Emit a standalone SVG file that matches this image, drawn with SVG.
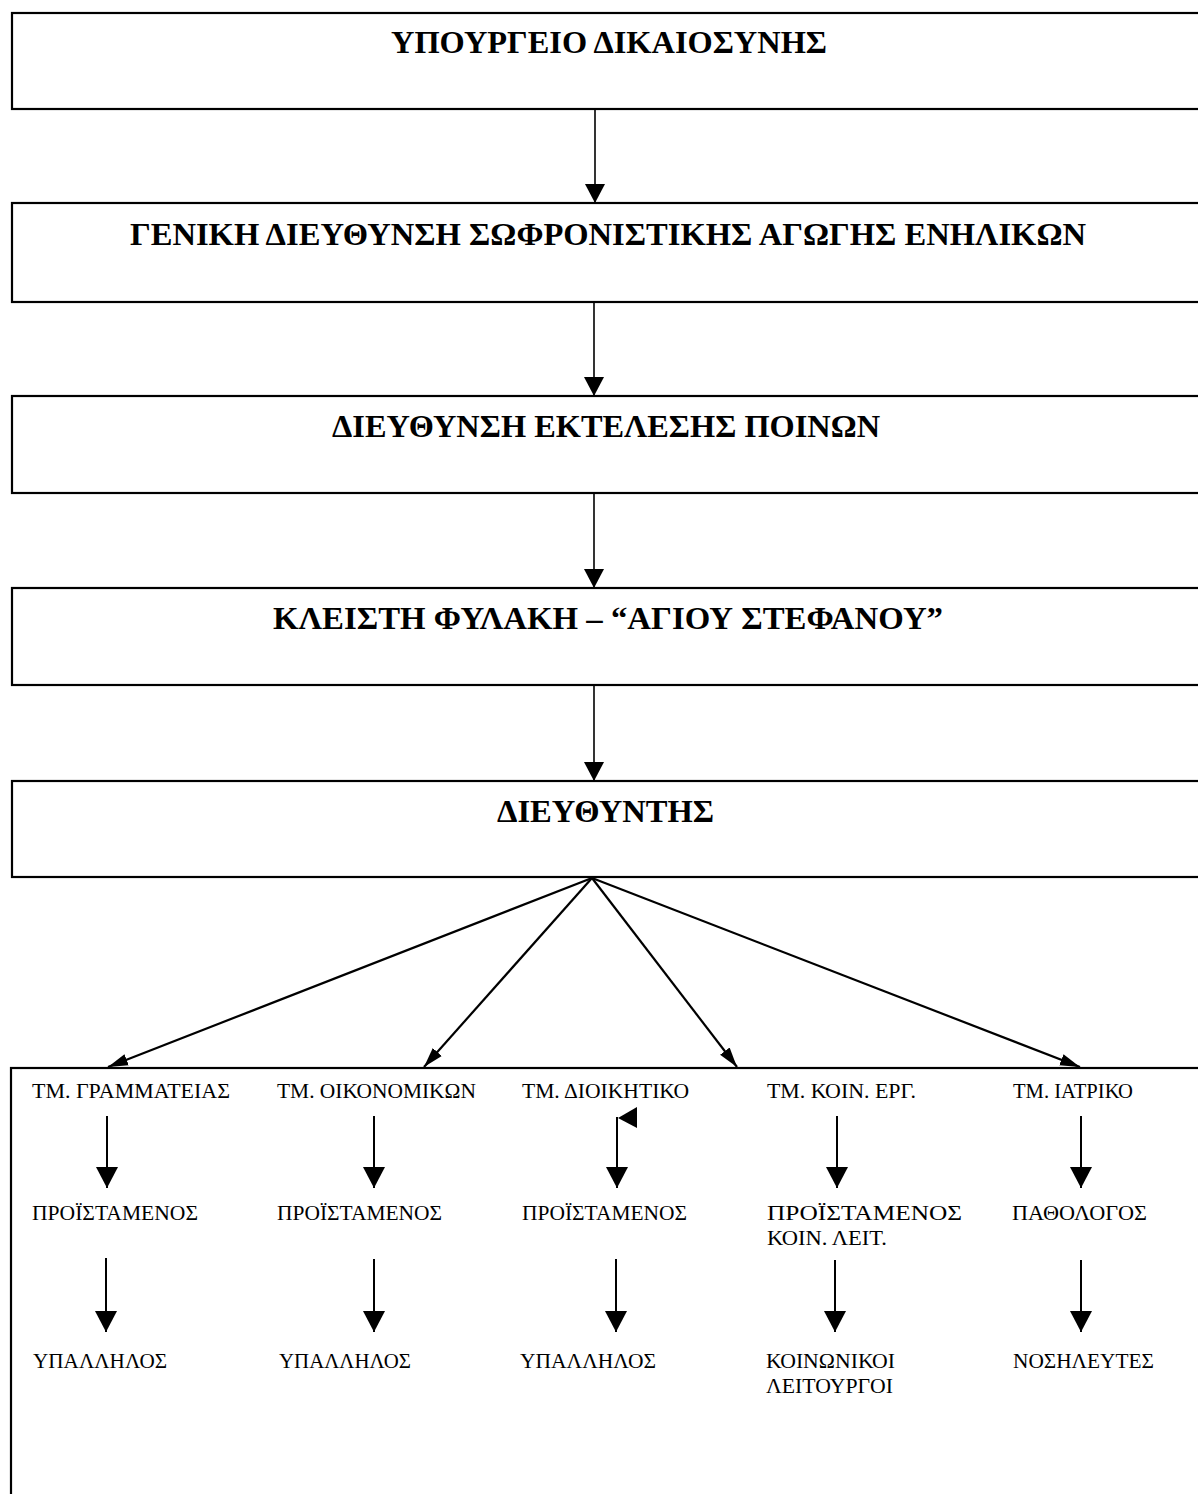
<svg xmlns="http://www.w3.org/2000/svg" width="1198" height="1494" viewBox="0 0 1198 1494">
<style>
.box{fill:#fff;stroke:#000;stroke-width:2.2}
.t{font-family:"Liberation Serif","Times New Roman",serif;font-weight:bold;font-size:32px;fill:#000}
.s{font-family:"Liberation Serif","Times New Roman",serif;font-size:20px;fill:#000}
.c{stroke:#000;stroke-width:1.6;fill:none}
.f{stroke:#000;stroke-width:2.2;fill:none}
.v{stroke:#000;stroke-width:2;fill:none}
</style>
<defs>
<marker id="big" markerUnits="userSpaceOnUse" markerWidth="20" markerHeight="22" refX="19" refY="10" orient="auto" viewBox="0 0 20 20"><path d="M0,0 L19,10 L0,20 z" fill="#000"/></marker>
<marker id="mid" markerUnits="userSpaceOnUse" markerWidth="22" markerHeight="22" refX="21" refY="11" orient="auto" viewBox="0 0 22 22"><path d="M0,0 L21,11 L0,22 z" fill="#000"/></marker>
<marker id="fan" markerUnits="userSpaceOnUse" markerWidth="21" markerHeight="13" refX="20" refY="6" orient="auto" viewBox="0 0 21 12"><path d="M0,0 L20,6 L0,12 z" fill="#000"/></marker>
</defs>
<rect width="1198" height="1494" fill="#fff"/>

<g id="n1"><rect class="box" x="12" y="13" width="1200" height="96"/><text class="t" x="391" y="53" textLength="436" lengthAdjust="spacingAndGlyphs">ΥΠΟΥΡΓΕΙΟ ΔΙΚΑΙΟΣΥΝΗΣ</text></g>
<g id="n2"><rect class="box" x="12" y="203" width="1200" height="99"/><text class="t" x="130" y="245" textLength="956" lengthAdjust="spacingAndGlyphs">ΓΕΝΙΚΗ ΔΙΕΥΘΥΝΣΗ ΣΩΦΡΟΝΙΣΤΙΚΗΣ ΑΓΩΓΗΣ ΕΝΗΛΙΚΩΝ</text></g>
<g id="n3"><rect class="box" x="12" y="396" width="1200" height="97"/><text class="t" x="332" y="437" textLength="548" lengthAdjust="spacingAndGlyphs">ΔΙΕΥΘΥΝΣΗ ΕΚΤΕΛΕΣΗΣ ΠΟΙΝΩΝ</text></g>
<g id="n4"><rect class="box" x="12" y="588" width="1200" height="97"/><text class="t" x="273" y="629" textLength="670" lengthAdjust="spacingAndGlyphs">ΚΛΕΙΣΤΗ ΦΥΛΑΚΗ – “ΑΓΙΟΥ ΣΤΕΦΑΝΟΥ”</text></g>
<g id="n5"><rect class="box" x="12" y="781" width="1200" height="96"/><text class="t" x="497" y="822" textLength="217" lengthAdjust="spacingAndGlyphs">ΔΙΕΥΘΥΝΤΗΣ</text></g>

<g id="n6">
<rect class="box" x="11" y="1068" width="1200" height="440"/>
<g id="col1">
<text class="s" x="32" y="1098" textLength="198" lengthAdjust="spacingAndGlyphs">ΤΜ. ΓΡΑΜΜΑΤΕΙΑΣ</text>
<text class="s" x="32" y="1220" textLength="166" lengthAdjust="spacingAndGlyphs">ΠΡΟΪΣΤΑΜΕΝΟΣ</text>
<text class="s" x="33" y="1368" textLength="134" lengthAdjust="spacingAndGlyphs">ΥΠΑΛΛΗΛΟΣ</text>
</g>
<g id="col2">
<text class="s" x="277" y="1098" textLength="199" lengthAdjust="spacingAndGlyphs">ΤΜ. ΟΙΚΟΝΟΜΙΚΩΝ</text>
<text class="s" x="277" y="1220" textLength="165" lengthAdjust="spacingAndGlyphs">ΠΡΟΪΣΤΑΜΕΝΟΣ</text>
<text class="s" x="279" y="1368" textLength="132" lengthAdjust="spacingAndGlyphs">ΥΠΑΛΛΗΛΟΣ</text>
</g>
<g id="col3">
<text class="s" x="522" y="1098" textLength="167" lengthAdjust="spacingAndGlyphs">ΤΜ. ΔΙΟΙΚΗΤΙΚΟ</text>
<text class="s" x="522" y="1220" textLength="165" lengthAdjust="spacingAndGlyphs">ΠΡΟΪΣΤΑΜΕΝΟΣ</text>
<text class="s" x="520" y="1368" textLength="136" lengthAdjust="spacingAndGlyphs">ΥΠΑΛΛΗΛΟΣ</text>
</g>
<g id="col4">
<text class="s" x="767" y="1098" textLength="149" lengthAdjust="spacingAndGlyphs">ΤΜ. ΚΟΙΝ. ΕΡΓ.</text>
<text class="s" x="767" y="1220" textLength="195" lengthAdjust="spacingAndGlyphs">ΠΡΟΪΣΤΑΜΕΝΟΣ</text>
<text class="s" x="767" y="1245" textLength="120" lengthAdjust="spacingAndGlyphs">ΚΟΙΝ. ΛΕΙΤ.</text>
<text class="s" x="766" y="1368" textLength="129" lengthAdjust="spacingAndGlyphs">ΚΟΙΝΩΝΙΚΟΙ</text>
<text class="s" x="766" y="1393" textLength="127" lengthAdjust="spacingAndGlyphs">ΛΕΙΤΟΥΡΓΟΙ</text>
</g>
<g id="col5">
<text class="s" x="1013" y="1098" textLength="120" lengthAdjust="spacingAndGlyphs">ΤΜ. ΙΑΤΡΙΚΟ</text>
<text class="s" x="1012" y="1220" textLength="135" lengthAdjust="spacingAndGlyphs">ΠΑΘΟΛΟΓΟΣ</text>
<text class="s" x="1013" y="1368" textLength="141" lengthAdjust="spacingAndGlyphs">ΝΟΣΗΛΕΥΤΕΣ</text>
</g>
</g>

<g id="connectors">
<line class="c" x1="595" y1="109" x2="595" y2="203" marker-end="url(#big)"/>
<line class="c" x1="594" y1="302" x2="594" y2="396" marker-end="url(#big)"/>
<line class="c" x1="594" y1="493" x2="594" y2="588" marker-end="url(#big)"/>
<line class="c" x1="594" y1="685" x2="594" y2="781" marker-end="url(#big)"/>

<line class="f" x1="592" y1="878" x2="108" y2="1067" marker-end="url(#fan)"/>
<line class="f" x1="592" y1="878" x2="424" y2="1067" marker-end="url(#fan)"/>
<line class="f" x1="592" y1="878" x2="737" y2="1067" marker-end="url(#fan)"/>
<line class="f" x1="592" y1="878" x2="1080" y2="1067" marker-end="url(#fan)"/>

<line class="v" x1="107" y1="1116" x2="107" y2="1188" marker-end="url(#mid)"/>
<line class="v" x1="374" y1="1116" x2="374" y2="1188" marker-end="url(#mid)"/>
<line class="v" x1="617" y1="1117" x2="617" y2="1188" marker-end="url(#mid)"/>
<polygon points="618,1118 637,1107 637,1128" fill="#000"/>
<line class="v" x1="837" y1="1116" x2="837" y2="1188" marker-end="url(#mid)"/>
<line class="v" x1="1081" y1="1116" x2="1081" y2="1188" marker-end="url(#mid)"/>

<line class="v" x1="106" y1="1258" x2="106" y2="1332" marker-end="url(#mid)"/>
<line class="v" x1="374" y1="1259" x2="374" y2="1332" marker-end="url(#mid)"/>
<line class="v" x1="616" y1="1259" x2="616" y2="1332" marker-end="url(#mid)"/>
<line class="v" x1="835" y1="1260" x2="835" y2="1332" marker-end="url(#mid)"/>
<line class="v" x1="1081" y1="1260" x2="1081" y2="1332" marker-end="url(#mid)"/>
</g>
</svg>
